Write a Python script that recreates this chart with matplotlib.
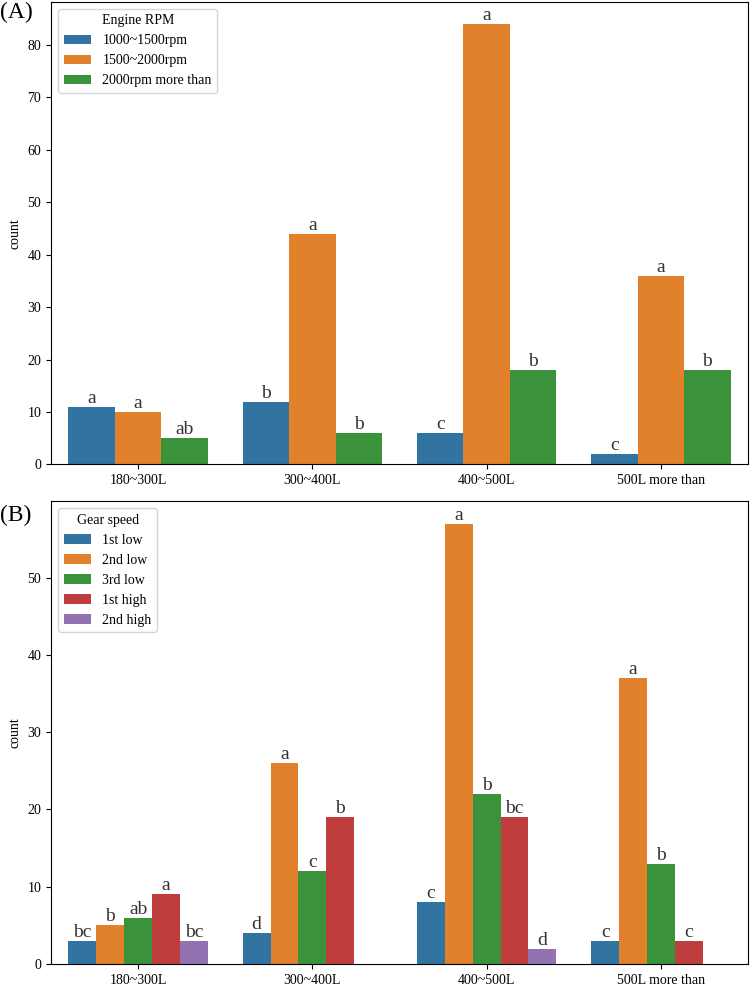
import numpy as np
import matplotlib.pyplot as plt
from matplotlib.colors import to_rgb
import colorsys

plt.rcParams['font.family'] = ['Liberation Serif', 'DejaVu Serif']

sizes = ['180~300L', '300~400L', '400~500L', '500L more than']

rpm_labels = ['1000~1500rpm', '1500~2000rpm', '2000rpm more than']
rpm_counts = [[11, 12, 6, 2],
              [10, 44, 84, 36],
              [5, 6, 18, 18]]
rpm_letters = [['a', 'b', 'c', 'c'],
               ['a', 'a', 'a', 'a'],
               ['ab', 'b', 'b', 'b']]

gear_labels = ['1st low', '2nd low', '3rd low', '1st high', '2nd high']
gear_counts = [[3, 4, 8, 3],
               [5, 26, 57, 37],
               [6, 12, 22, 13],
               [9, 19, 19, 3],
               [3, 0, 2, 0]]
gear_letters = [['bc', 'd', 'c', 'c'],
                ['b', 'a', 'a', 'a'],
                ['ab', 'c', 'b', 'b'],
                ['a', 'b', 'bc', 'c'],
                ['bc', '', 'd', '']]


def desat(c, s=0.75):
    # same muting seaborn applies to countplot colours
    h, l, sat = colorsys.rgb_to_hls(*to_rgb(c))
    return colorsys.hls_to_rgb(h, l, sat * s)


colors = [desat(c) for c in plt.rcParams['axes.prop_cycle'].by_key()['color']]


def draw(ax, counts, letters, labels, title):
    n = len(counts)
    w = 0.8 / n
    x = np.arange(len(sizes))
    for i, (vals, lets) in enumerate(zip(counts, letters)):
        pos = x - 0.4 + w * (i + 0.5)
        ax.bar(pos, vals, width=w, color=colors[i], label=labels[i],
               edgecolor='none')
        for p, v, t in zip(pos, vals, lets):
            if t:
                ax.text(p, v, t, ha='center', va='bottom', fontsize=14,
                        color='#333333')
    ax.set_xticks(x)
    ax.set_xticklabels(sizes, fontsize=10)
    ax.set_xlim(-0.5, len(sizes) - 0.5)
    ax.set_ylabel('count', fontsize=10)
    ax.tick_params(axis='y', labelsize=10)
    ax.legend(title=title, loc='upper left', fontsize=10, title_fontsize=10)


fig, (ax1, ax2) = plt.subplots(2, 1, figsize=(7.51, 9.85), dpi=100)
fig.subplots_adjust(left=0.068, right=0.996, top=0.998, bottom=0.0213,
                    hspace=0.08)

draw(ax1, rpm_counts, rpm_letters, rpm_labels, 'Engine RPM')
draw(ax2, gear_counts, gear_letters, gear_labels, 'Gear speed')

fig.text(0.0, 0.987, '(A)', fontsize=17, va='center')
fig.text(0.0, 0.477, '(B)', fontsize=17, va='center')

fig.savefig('out.png', dpi=100)
